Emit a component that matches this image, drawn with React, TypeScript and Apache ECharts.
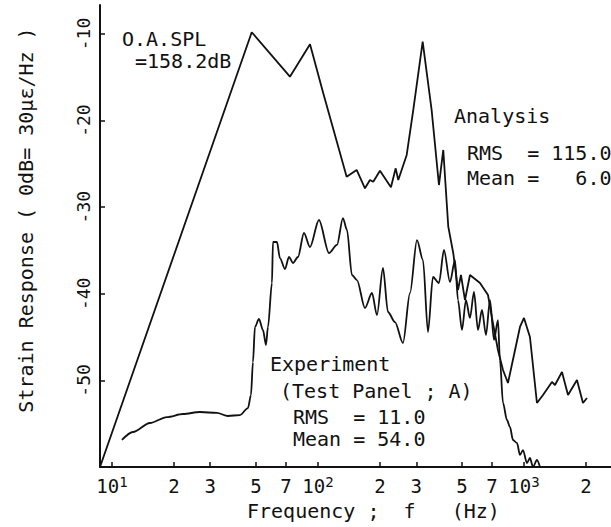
import React, { useEffect, useRef } from 'react';
import * as echarts from 'echarts';

// Analysis curve (frequency in Hz, response in dB)
const analysisFreq = [
  8.75, 47.7, 73.1, 91.5, 106.1, 137.8, 154.1, 169.1, 178.8, 185.5, 200, 226.1, 238.4, 245.4,
  269.6, 290.1, 322.3, 356.3, 386.6, 405.8, 429.1, 453.8, 478.2, 494.5, 517.1, 546.9, 611.6,
  668.9, 699.4, 747.7, 791.0, 836.1, 894.3, 956.3, 1000, 1069, 1156, 1237, 1367, 1414, 1529,
  1636, 1808, 1934, 2022,
];
const analysisDb = [
  -60.0, -9.8, -14.93, -11.19, -16.85, -26.48, -25.7, -27.82, -26.86, -27.06, -25.78, -27.7,
  -25.51, -26.86, -23.97, -18.78, -10.89, -18.78, -27.44, -23.39, -32.25, -35.32, -39.56,
  -37.83, -40.72, -37.83, -38.75, -40.14, -42.79, -46.49, -48.8, -50.3, -47.07, -43.83, -42.79,
  -44.99, -52.61, -51.69, -50.18, -50.53, -49.03, -51.69, -49.95, -52.61, -52.03,
];

// Experiment curve (Test Panel ; A)
const experimentFreq = [
  11.18, 12.65, 15.29, 18.49, 22.12, 26.74, 32.33, 36.58, 41.81, 45.73, 47.29, 48.36, 49.45,
  51.71, 54.08, 55.93, 57.19, 59.8, 60.47, 63.24, 65.39, 69.16, 72.32, 75.62, 79.97, 85.51,
  91.46, 101.1, 113.1, 123.7, 132.2, 138.3, 146.2, 154.6, 169.1, 182.9, 193.4, 206.8, 218.7,
  236.5, 258.6, 279.7, 302.4, 323.4, 342.0, 361.6, 386.6, 408.9, 437.3, 462.4, 478.2, 500.0,
  522.9, 546.9, 571.9, 598.0, 625.4, 654.0, 683.9, 715.2, 747.7, 764.6, 791.0, 827.0, 855.1,
  884.3, 924.7, 956.3, 988.8, 1034, 1069, 1106, 1156, 1196,
];
const experimentDb = [
  -56.88, -55.96, -54.92, -54.23, -53.88, -53.65, -53.76, -54.11, -54.0, -53.19, -51.69, -47.88,
  -43.83, -42.91, -44.18, -45.91, -43.83, -38.75, -34.02, -34.02, -35.87, -37.14, -35.75, -36.44,
  -35.75, -32.98, -34.6, -31.48, -35.29, -34.36, -31.25, -32.63, -37.83, -38.41, -41.64, -39.91,
  -42.45, -37.02, -42.1, -43.26, -45.68, -39.91, -33.79, -36.1, -44.41, -38.06, -38.75, -34.94,
  -38.64, -36.1, -40.72, -44.18, -40.72, -42.79, -39.79, -44.18, -41.87, -44.76, -40.72, -45.33,
  -43.03, -47.64, -52.61, -54.57, -55.38, -56.88, -57.23, -58.61, -58.04, -59.54, -58.96, -60.0,
  -59.19, -60.0,
];

const xTickValues = [10, 20, 30, 50, 70, 100, 200, 300, 500, 700, 1000, 2000];
const yTickValues = [-50, -40, -30, -20, -10];
const xMinHz = 8.75;
const xMaxHz = 2645;
const yMin = -60;
const yMax = -6.65;

const MONO = "'DejaVu Sans Mono', monospace";

export default function App() {
  const ref = useRef<HTMLDivElement>(null);

  useEffect(() => {
    document.body.style.margin = '0';
    if (!ref.current) return;
    const chart = echarts.init(ref.current, null, { renderer: 'svg' });

    const toPts = (fs: number[], ds: number[]) => fs.map((f, i) => [Math.log10(f), ds[i]]);
    const ink = '#111';

    const txt = (text: string, x: number, y: number, extra: any = {}) => ({
      type: 'text',
      x,
      y,
      style: {
        text,
        fill: ink,
        font: `20px ${MONO}`,
        verticalAlign: 'middle',
        align: 'left',
        ...extra,
      },
    });

    const option: any = {
      animation: false,
      backgroundColor: '#fff',
      grid: { left: 100, right: 0, top: 5, bottom: 60, outerBoundsMode: 'none' },
      xAxis: {
        type: 'value',
        min: Math.log10(xMinHz),
        max: Math.log10(xMaxHz),
        axisLine: { show: true, lineStyle: { color: ink, width: 2 } },
        splitLine: { show: false },
        axisTick: {
          show: true,
          inside: true,
          length: 5,
          lineStyle: { color: ink, width: 1.5 },
          customValues: xTickValues.map((v) => Math.log10(v)),
        },
        axisLabel: {
          show: true,
          margin: 8,
          customValues: xTickValues.map((v) => Math.log10(v)),
          formatter: (v: number) => {
            const f = Math.round(Math.pow(10, v));
            const e = Math.round(Math.log10(f));
            if (Math.abs(Math.pow(10, e) - f) < 1e-6) return `{b|10}{s|${e}}`;
            const lead = f / Math.pow(10, Math.floor(Math.log10(f) + 1e-9));
            return `{b|${Math.round(lead)}}`;
          },
          rich: {
            b: { fontSize: 19, fontFamily: MONO, color: ink, lineHeight: 22 },
            s: { fontSize: 14, fontFamily: MONO, color: ink, lineHeight: 14, verticalAlign: 'top' },
          },
        },
      },
      yAxis: {
        type: 'value',
        min: yMin,
        max: yMax,
        axisLine: { show: true, lineStyle: { color: ink, width: 2 } },
        splitLine: { show: false },
        axisTick: {
          show: true,
          inside: true,
          length: 5,
          lineStyle: { color: ink, width: 1.5 },
          customValues: yTickValues,
        },
        axisLabel: {
          show: true,
          rotate: 90,
          margin: 8,
          customValues: yTickValues,
          fontSize: 18,
          fontFamily: MONO,
          color: ink,
        },
      },
      series: [
        {
          name: 'Analysis',
          type: 'line',
          data: toPts(analysisFreq, analysisDb),
          showSymbol: false,
          symbol: 'none',
          lineStyle: { color: ink, width: 1.8 },
          smooth: false,
        },
        {
          name: 'Experiment',
          type: 'line',
          data: toPts(experimentFreq, experimentDb),
          showSymbol: false,
          symbol: 'none',
          lineStyle: { color: ink, width: 1.8 },
          smooth: 0.3,
          smoothMonotone: 'x',
        },
      ],
      graphic: [
        txt('O.A.SPL', 122, 39),
        txt('=158.2dB', 135, 61),
        txt('Analysis', 454, 116),
        txt('RMS  = 115.0', 467, 153),
        txt('Mean =   6.0', 467, 178),
        txt('Experiment', 270, 364),
        txt('(Test Panel ; A)', 280, 391),
        txt('RMS  = 11.0', 293, 417),
        txt('Mean = 54.0', 293, 439),
        txt('Frequency ;  f   (Hz)', 247, 511),
        {
          type: 'text',
          x: 26,
          y: 220,
          rotation: Math.PI / 2,
          style: {
            text: 'Strain Response ( 0dB= 30\u03bc\u03b5/Hz )',
            fill: ink,
            font: `20px ${MONO}`,
            align: 'center',
            verticalAlign: 'middle',
          },
        },
      ],
    };

    chart.setOption(option);
    return () => chart.dispose();
  }, []);

  return <div ref={ref} style={{ width: 611, height: 527, background: '#fff' }} />;
}
